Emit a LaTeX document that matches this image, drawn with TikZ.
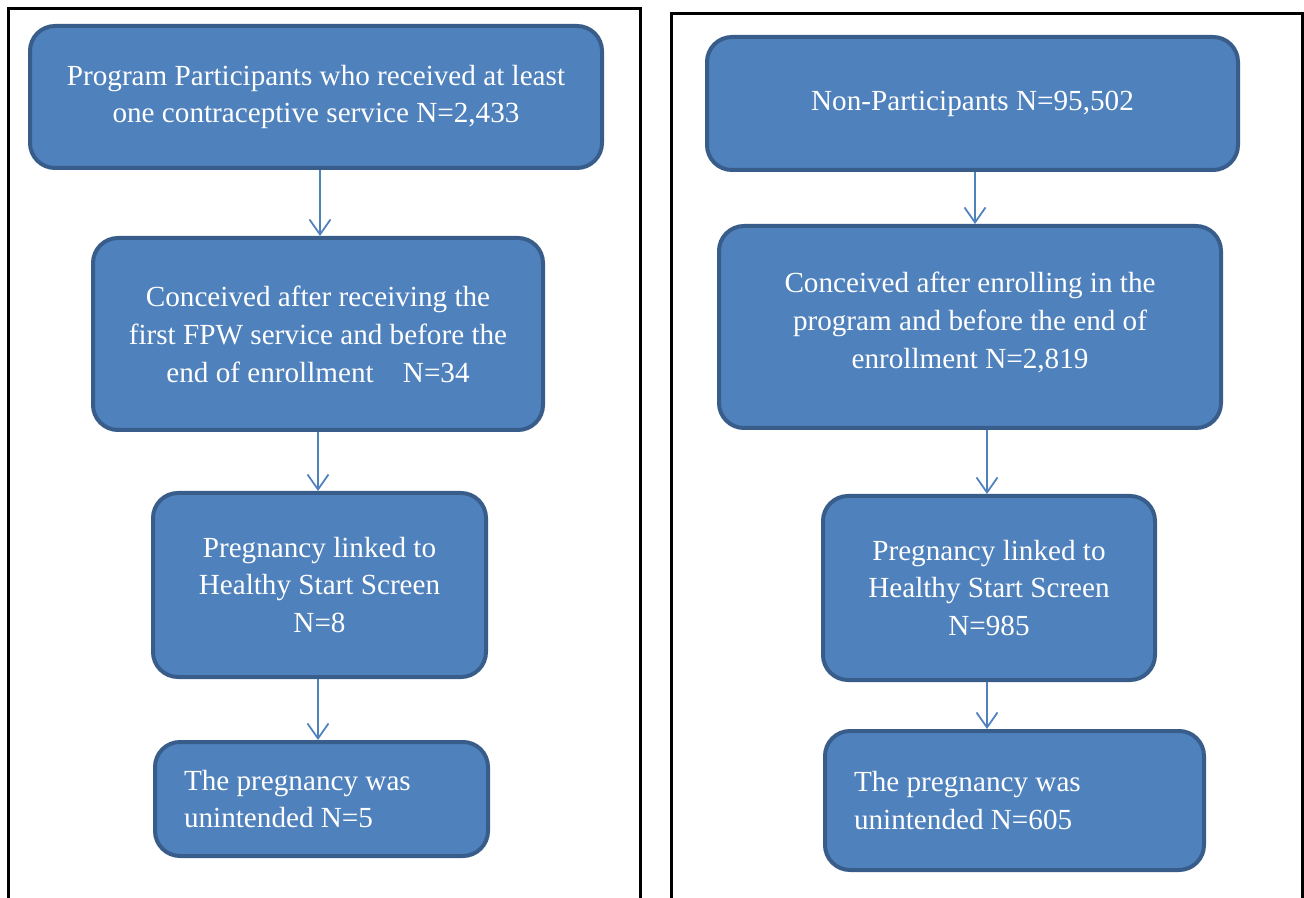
\documentclass[tikz,border=0pt]{standalone}
\usepackage{fontspec}
\setmainfont{Liberation Serif}
\usepackage{tikz}
\usetikzlibrary{arrows.meta,positioning}
\definecolor{boxfill}{HTML}{4F81BD}
\definecolor{boxline}{HTML}{385D8A}

\begin{document}
\begin{tikzpicture}[
	stage/.style={draw=boxline, line width=0.08cm, fill=boxfill, rounded corners=0.5cm,
		text=white, align=center, font=\fontsize{16.6}{21.6}\selectfont, inner sep=0pt},
	lstage/.style={stage, align=flush left, inner xsep=0.58cm, anchor=west},
	flow/.style={draw=boxfill, line width=1pt, -{Straight Barb[length=0.3cm,width=0.42cm]}},
	frame/.style={draw=black, line width=0.06cm}]
	\useasboundingbox (0,0) rectangle (26.08,-17.96);
	% the two panels
	\draw [frame] (0.18,-20) -- (0.18,-0.18) -- (12.8,-0.18) -- (12.8,-20);
	\draw [frame] (13.42,-20) -- (13.42,-0.28) -- (26.04,-0.28) -- (26.04,-20);
	% participants
	\node [stage, minimum width=11.44cm, minimum height=2.84cm] (p1) at (6.32,-1.94)
		{Program Participants who received at least\\one contraceptive service N=2,433};
	\node [stage, minimum width=9.0cm, minimum height=3.84cm] (p2) at (6.36,-6.68)
		{Conceived after receiving the\\first FPW service and before the\\end of enrollment\quad N=34};
	\node [stage, minimum width=6.66cm, minimum height=3.68cm] (p3) at (6.39,-11.70)
		{Pregnancy linked to\\Healthy Start Screen\\N=8};
	\node [lstage, text width=5.5cm, minimum height=2.28cm] (p4) at (3.06,-15.98)
		{The pregnancy was\\unintended N=5};
	% non-participants
	\node [stage, minimum width=10.62cm, minimum height=2.66cm] (n1) at (19.45,-2.07)
		{Non-Participants N=95,502};
	\node [stage, minimum width=10.04cm, minimum height=4.04cm] (n2) at (19.40,-6.54)
		{Conceived after enrolling in the\\program and before the end of\\enrollment N=2,819\\[-0.5cm]};
	\node [stage, minimum width=6.64cm, minimum height=3.68cm] (n3) at (19.78,-11.76)
		{Pregnancy linked to\\Healthy Start Screen\\N=985};
	\node [lstage, text width=6.42cm, minimum height=2.78cm] (n4) at (16.46,-16.01)
		{The pregnancy was\\unintended N=605};
	% arrows
	\draw [flow] (p1.south -| 6.4,0) -- (p2.north -| 6.4,0);
	\draw [flow] (p2.south -| 6.36,0) -- (p3.north -| 6.36,0);
	\draw [flow] (p3.south -| 6.36,0) -- (p4.north -| 6.36,0);
	\draw [flow] (n1.south -| 19.5,0) -- (n2.north -| 19.5,0);
	\draw [flow] (n2.south -| 19.74,0) -- (n3.north -| 19.74,0);
	\draw [flow] (n3.south -| 19.74,0) -- (n4.north -| 19.74,0);
\end{tikzpicture}
\end{document}
